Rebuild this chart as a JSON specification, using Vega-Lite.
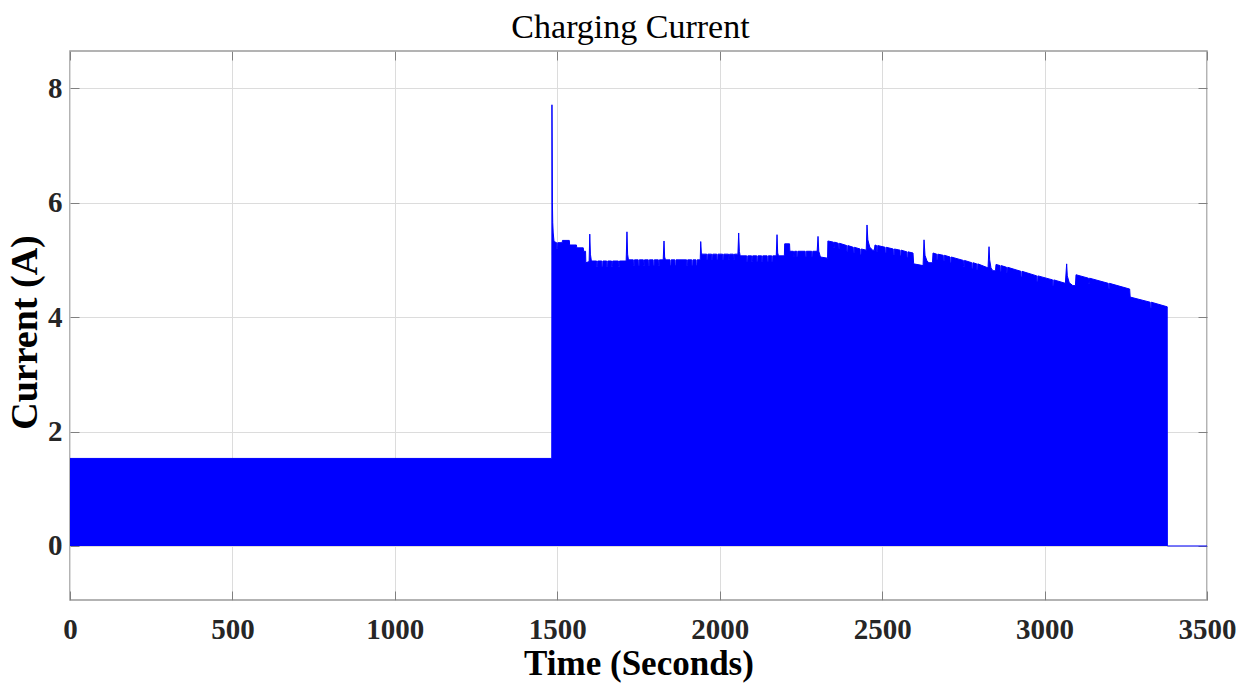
{
  "$schema": "https://vega.github.io/schema/vega-lite/v6.json",
  "width": 1137,
  "height": 549,
  "autosize": {"type": "none"},
  "padding": {"left": 70, "top": 51, "right": 46, "bottom": 95},
  "background": "white",
  "title": {
    "text": "Charging Current",
    "font": "Liberation Serif",
    "fontSize": 34,
    "fontWeight": "normal",
    "color": "#000000",
    "anchor": "middle",
    "dx": -8,
    "offset": 6
  },
  "config": {
    "view": {"stroke": "#9a9a9a", "strokeWidth": 1.5},
    "axis": {
      "labelFont": "Liberation Serif",
      "labelFontSize": 29,
      "labelFontWeight": "bold",
      "labelColor": "#262626",
      "titleFont": "Liberation Serif",
      "titleFontSize": 35,
      "titleFontWeight": "bold",
      "titleColor": "#000000",
      "gridColor": "#dcdcdc",
      "gridWidth": 1,
      "domain": false,
      "tickColor": "#808080",
      "tickSize": -9,
      "tickWidth": 1,
      "format": "d"
    }
  },
  "data": {
    "values": [
      {"t": 0, "i": 1.53},
      {"t": 1483, "i": 1.53},
      {"t": 1483.6, "i": 7.71},
      {"t": 1485, "i": 6.0},
      {"t": 1486, "i": 5.65},
      {"t": 1487.5, "i": 5.47},
      {"t": 1490, "i": 5.32},
      {"t": 1498, "i": 5.3},
      {"t": 1498.5, "i": 5.2},
      {"t": 1501, "i": 5.2},
      {"t": 1501.5, "i": 5.3},
      {"t": 1515, "i": 5.3},
      {"t": 1516, "i": 5.34},
      {"t": 1537, "i": 5.34},
      {"t": 1538, "i": 5.26},
      {"t": 1559, "i": 5.26},
      {"t": 1560, "i": 5.21},
      {"t": 1580, "i": 5.21},
      {"t": 1581, "i": 5.15},
      {"t": 1587, "i": 5.15},
      {"t": 1588, "i": 4.95},
      {"t": 1598, "i": 4.97},
      {"t": 1600, "i": 5.45},
      {"t": 1602, "i": 5.1},
      {"t": 1605, "i": 4.98},
      {"t": 1621, "i": 4.98}, {"t": 1621.5, "i": 4.88}, {"t": 1624, "i": 4.88}, {"t": 1624.5, "i": 4.98},
      {"t": 1637, "i": 4.98}, {"t": 1637.5, "i": 4.88}, {"t": 1640, "i": 4.88}, {"t": 1640.5, "i": 4.98},
      {"t": 1652, "i": 4.98}, {"t": 1652.5, "i": 4.88}, {"t": 1655, "i": 4.88}, {"t": 1655.5, "i": 4.98},
      {"t": 1667, "i": 4.98}, {"t": 1667.5, "i": 4.88}, {"t": 1670, "i": 4.88}, {"t": 1670.5, "i": 4.98},
      {"t": 1688, "i": 4.98}, {"t": 1688.5, "i": 4.88}, {"t": 1691, "i": 4.88}, {"t": 1691.5, "i": 4.98},
      {"t": 1712, "i": 4.98},
      {"t": 1714.5, "i": 5.49},
      {"t": 1716.5, "i": 5.1},
      {"t": 1719, "i": 5.0},
      {"t": 1734, "i": 5.0}, {"t": 1734.5, "i": 4.9}, {"t": 1737, "i": 4.9}, {"t": 1737.5, "i": 5.0},
      {"t": 1749, "i": 5.0}, {"t": 1749.5, "i": 4.9}, {"t": 1752, "i": 4.9}, {"t": 1752.5, "i": 5.0},
      {"t": 1765, "i": 5.0}, {"t": 1765.5, "i": 4.9}, {"t": 1768, "i": 4.9}, {"t": 1768.5, "i": 5.0},
      {"t": 1780, "i": 5.0}, {"t": 1780.5, "i": 4.9}, {"t": 1783, "i": 4.9}, {"t": 1783.5, "i": 5.0},
      {"t": 1795, "i": 5.0}, {"t": 1795.5, "i": 4.9}, {"t": 1798, "i": 4.9}, {"t": 1798.5, "i": 5.0},
      {"t": 1811, "i": 5.0}, {"t": 1811.5, "i": 4.9}, {"t": 1814, "i": 4.9}, {"t": 1814.5, "i": 5.0},
      {"t": 1826, "i": 5.0},
      {"t": 1828.5, "i": 5.33},
      {"t": 1830.5, "i": 5.05},
      {"t": 1833, "i": 5.0},
      {"t": 1847, "i": 5.0}, {"t": 1847.5, "i": 4.9}, {"t": 1850, "i": 4.9}, {"t": 1850.5, "i": 5.0},
      {"t": 1862, "i": 5.0}, {"t": 1862.5, "i": 4.9}, {"t": 1865, "i": 4.9}, {"t": 1865.5, "i": 5.0},
      {"t": 1898, "i": 5.0}, {"t": 1898.5, "i": 4.9}, {"t": 1901, "i": 4.9}, {"t": 1901.5, "i": 5.0},
      {"t": 1914, "i": 5.0}, {"t": 1914.5, "i": 4.9}, {"t": 1917, "i": 4.9}, {"t": 1917.5, "i": 5.0},
      {"t": 1927, "i": 5.0}, {"t": 1927.5, "i": 4.9}, {"t": 1930, "i": 4.9}, {"t": 1930.5, "i": 5.0},
      {"t": 1940, "i": 5.0},
      {"t": 1941.5, "i": 5.32},
      {"t": 1943.5, "i": 5.12},
      {"t": 1946, "i": 5.1},
      {"t": 1960, "i": 5.1}, {"t": 1960.5, "i": 5.0}, {"t": 1963, "i": 5.0}, {"t": 1963.5, "i": 5.1},
      {"t": 1975, "i": 5.1}, {"t": 1975.5, "i": 5.0}, {"t": 1978, "i": 5.0}, {"t": 1978.5, "i": 5.1},
      {"t": 1991, "i": 5.1}, {"t": 1991.5, "i": 5.0}, {"t": 1994, "i": 5.0}, {"t": 1994.5, "i": 5.1},
      {"t": 2009, "i": 5.1}, {"t": 2009.5, "i": 5.0}, {"t": 2012, "i": 5.0}, {"t": 2012.5, "i": 5.1},
      {"t": 2027, "i": 5.1}, {"t": 2027.5, "i": 5.0}, {"t": 2030, "i": 5.0}, {"t": 2030.5, "i": 5.1},
      {"t": 2042, "i": 5.1}, {"t": 2042.5, "i": 5.0}, {"t": 2045, "i": 5.0}, {"t": 2045.5, "i": 5.1},
      {"t": 2056, "i": 5.1},
      {"t": 2058.4, "i": 5.47},
      {"t": 2060.5, "i": 5.15},
      {"t": 2063, "i": 5.07},
      {"t": 2083, "i": 5.07}, {"t": 2083.5, "i": 4.97}, {"t": 2086, "i": 4.97}, {"t": 2086.5, "i": 5.07},
      {"t": 2098, "i": 5.07}, {"t": 2098.5, "i": 4.97}, {"t": 2101, "i": 4.97}, {"t": 2101.5, "i": 5.07},
      {"t": 2114, "i": 5.07}, {"t": 2114.5, "i": 4.97}, {"t": 2117, "i": 4.97}, {"t": 2117.5, "i": 5.07},
      {"t": 2129, "i": 5.07}, {"t": 2129.5, "i": 4.97}, {"t": 2132, "i": 4.97}, {"t": 2132.5, "i": 5.07},
      {"t": 2146, "i": 5.07}, {"t": 2146.5, "i": 4.97}, {"t": 2149, "i": 4.97}, {"t": 2149.5, "i": 5.07},
      {"t": 2160, "i": 5.07}, {"t": 2160.5, "i": 4.97}, {"t": 2163, "i": 4.97}, {"t": 2163.5, "i": 5.07},
      {"t": 2174, "i": 5.07},
      {"t": 2176.4, "i": 5.44},
      {"t": 2178.5, "i": 5.12},
      {"t": 2181, "i": 5.07},
      {"t": 2199, "i": 5.07},
      {"t": 2200, "i": 5.28},
      {"t": 2215, "i": 5.28},
      {"t": 2216, "i": 5.15},
      {"t": 2227, "i": 5.15}, {"t": 2227.5, "i": 5.05}, {"t": 2230, "i": 5.05}, {"t": 2230.5, "i": 5.15},
      {"t": 2237, "i": 5.15}, {"t": 2237.5, "i": 5.05}, {"t": 2240, "i": 5.05}, {"t": 2240.5, "i": 5.15},
      {"t": 2263, "i": 5.15}, {"t": 2263.5, "i": 5.05}, {"t": 2266, "i": 5.05}, {"t": 2266.5, "i": 5.15},
      {"t": 2283, "i": 5.15}, {"t": 2283.5, "i": 5.05}, {"t": 2286, "i": 5.05}, {"t": 2286.5, "i": 5.15},
      {"t": 2300, "i": 5.15},
      {"t": 2302.6, "i": 5.41},
      {"t": 2305, "i": 5.15},
      {"t": 2310, "i": 5.05},
      {"t": 2332, "i": 5.03},
      {"t": 2333, "i": 5.33},
      {"t": 2350, "i": 5.31}, {"t": 2350.5, "i": 5.21}, {"t": 2353, "i": 5.21}, {"t": 2353.5, "i": 5.31},
      {"t": 2365, "i": 5.29}, {"t": 2365.5, "i": 5.19}, {"t": 2368, "i": 5.19}, {"t": 2368.5, "i": 5.29},
      {"t": 2391, "i": 5.25}, {"t": 2391.5, "i": 5.15}, {"t": 2394, "i": 5.15}, {"t": 2394.5, "i": 5.25},
      {"t": 2411, "i": 5.22}, {"t": 2411.5, "i": 5.12}, {"t": 2414, "i": 5.12}, {"t": 2414.5, "i": 5.22},
      {"t": 2432, "i": 5.19}, {"t": 2432.5, "i": 5.09}, {"t": 2435, "i": 5.09}, {"t": 2435.5, "i": 5.19},
      {"t": 2451, "i": 5.17},
      {"t": 2453.4, "i": 5.61},
      {"t": 2456, "i": 5.35},
      {"t": 2462, "i": 5.22},
      {"t": 2471, "i": 5.17},
      {"t": 2476, "i": 5.17},
      {"t": 2478, "i": 5.26},
      {"t": 2483, "i": 5.25}, {"t": 2483.5, "i": 5.15}, {"t": 2486, "i": 5.15}, {"t": 2486.5, "i": 5.25},
      {"t": 2509, "i": 5.22}, {"t": 2509.5, "i": 5.12}, {"t": 2512, "i": 5.12}, {"t": 2512.5, "i": 5.22},
      {"t": 2534, "i": 5.19}, {"t": 2534.5, "i": 5.09}, {"t": 2537, "i": 5.09}, {"t": 2537.5, "i": 5.19},
      {"t": 2555, "i": 5.17}, {"t": 2555.5, "i": 5.07}, {"t": 2558, "i": 5.07}, {"t": 2558.5, "i": 5.17},
      {"t": 2576, "i": 5.14}, {"t": 2576.5, "i": 5.04}, {"t": 2579, "i": 5.04}, {"t": 2579.5, "i": 5.14},
      {"t": 2595, "i": 5.12},
      {"t": 2597, "i": 4.93},
      {"t": 2626, "i": 4.9},
      {"t": 2628.9, "i": 5.35},
      {"t": 2632, "i": 5.08},
      {"t": 2638, "i": 4.98},
      {"t": 2644, "i": 4.95},
      {"t": 2655, "i": 4.95},
      {"t": 2656.6, "i": 5.12},
      {"t": 2668, "i": 5.1}, {"t": 2668.5, "i": 5.0}, {"t": 2671, "i": 5.0}, {"t": 2671.5, "i": 5.1},
      {"t": 2688, "i": 5.08}, {"t": 2688.5, "i": 4.98}, {"t": 2691, "i": 4.98}, {"t": 2691.5, "i": 5.08},
      {"t": 2709, "i": 5.05}, {"t": 2709.5, "i": 4.95}, {"t": 2712, "i": 4.95}, {"t": 2712.5, "i": 5.05},
      {"t": 2750, "i": 4.99}, {"t": 2750.5, "i": 4.89}, {"t": 2753, "i": 4.89}, {"t": 2753.5, "i": 4.99},
      {"t": 2776, "i": 4.95}, {"t": 2776.5, "i": 4.85}, {"t": 2779, "i": 4.85}, {"t": 2779.5, "i": 4.95},
      {"t": 2791, "i": 4.93}, {"t": 2791.5, "i": 4.83}, {"t": 2794, "i": 4.83}, {"t": 2794.5, "i": 4.93},
      {"t": 2826, "i": 4.86},
      {"t": 2829, "i": 5.23},
      {"t": 2831, "i": 5.0},
      {"t": 2835, "i": 4.86},
      {"t": 2841, "i": 4.81},
      {"t": 2849, "i": 4.81},
      {"t": 2850.5, "i": 4.92},
      {"t": 2863, "i": 4.9}, {"t": 2863.5, "i": 4.8}, {"t": 2866, "i": 4.8}, {"t": 2866.5, "i": 4.9},
      {"t": 2883, "i": 4.87}, {"t": 2883.5, "i": 4.77}, {"t": 2886, "i": 4.77}, {"t": 2886.5, "i": 4.87},
      {"t": 2927, "i": 4.8}, {"t": 2927.5, "i": 4.7}, {"t": 2930, "i": 4.7}, {"t": 2930.5, "i": 4.8},
      {"t": 2976, "i": 4.72}, {"t": 2976.5, "i": 4.62}, {"t": 2979, "i": 4.62}, {"t": 2979.5, "i": 4.72},
      {"t": 3025, "i": 4.65}, {"t": 3025.5, "i": 4.55}, {"t": 3028, "i": 4.55}, {"t": 3028.5, "i": 4.65},
      {"t": 3064, "i": 4.59},
      {"t": 3068, "i": 4.93},
      {"t": 3070, "i": 4.72},
      {"t": 3076, "i": 4.6},
      {"t": 3087, "i": 4.55},
      {"t": 3095, "i": 4.55},
      {"t": 3096.8, "i": 4.74},
      {"t": 3135, "i": 4.68}, {"t": 3135.5, "i": 4.58}, {"t": 3138, "i": 4.58}, {"t": 3138.5, "i": 4.68},
      {"t": 3196, "i": 4.59}, {"t": 3196.5, "i": 4.49}, {"t": 3199, "i": 4.49}, {"t": 3199.5, "i": 4.59},
      {"t": 3262, "i": 4.49},
      {"t": 3263.5, "i": 4.35},
      {"t": 3325, "i": 4.26}, {"t": 3325.5, "i": 4.16}, {"t": 3328, "i": 4.16}, {"t": 3328.5, "i": 4.26},
      {"t": 3377.5, "i": 4.18},
      {"t": 3378, "i": 0},
      {"t": 3500, "i": 0}
    ]
  },
  "layer": [
    {
      "mark": {"type": "area", "color": "#0000ff", "opacity": 1, "interpolate": "linear"},
      "encoding": {
        "x": {
          "field": "t",
          "type": "quantitative",
          "scale": {"domain": [0, 3500], "nice": false, "zero": false},
          "axis": {
            "values": [0, 500, 1000, 1500, 2000, 2500, 3000, 3500],
            "title": "Time (Seconds)",
            "grid": true,
            "labelPadding": 24,
            "titlePadding": 2,
            "labelFlush": false
          }
        },
        "y": {
          "field": "i",
          "type": "quantitative",
          "scale": {"domain": [-0.944, 8.65], "nice": false, "zero": false},
          "axis": {
            "values": [0, 2, 4, 6, 8],
            "title": "Current (A)",
            "titleFontSize": 38,
            "titleY": 281,
            "grid": true,
            "labelPadding": 17,
            "titlePadding": 3,
            "labelFlush": false
          }
        },
        "y2": {"datum": 0}
      }
    },
    {
      "mark": {"type": "line", "color": "#0000ff", "strokeWidth": 1, "interpolate": "linear"},
      "encoding": {
        "x": {
          "field": "t",
          "type": "quantitative",
          "axis": {
            "orient": "top",
            "values": [0, 500, 1000, 1500, 2000, 2500, 3000, 3500],
            "labels": false,
            "grid": false,
            "title": null
          }
        },
        "y": {
          "field": "i",
          "type": "quantitative",
          "axis": {
            "orient": "right",
            "values": [0, 2, 4, 6, 8],
            "labels": false,
            "grid": false,
            "title": null
          }
        }
      }
    }
  ],
  "resolve": {"axis": {"x": "independent", "y": "independent"}}
}
